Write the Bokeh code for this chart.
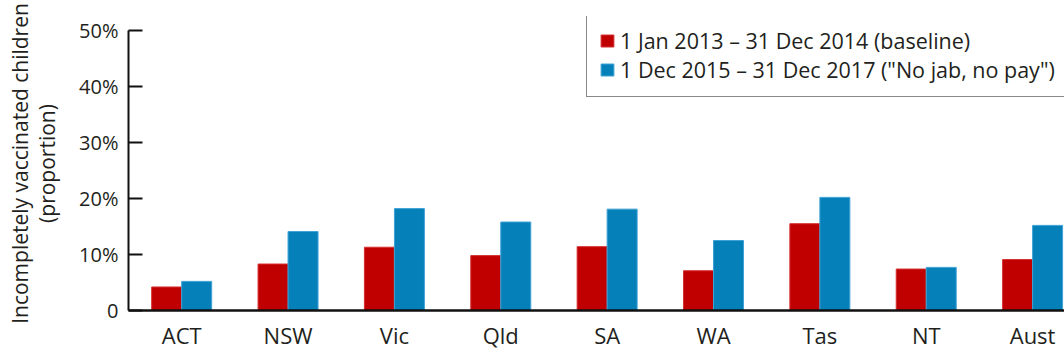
from bokeh.plotting import figure
from bokeh.models import Range1d, FixedTicker, ColumnDataSource, Legend, LegendItem
from bokeh.transform import dodge
from bokeh.embed import file_html
from bokeh.resources import INLINE

regions = ["ACT", "NSW", "Vic", "Qld", "SA", "WA", "Tas", "NT", "Aust"]
baseline = [4.2, 8.3, 11.3, 9.8, 11.4, 7.1, 15.5, 7.4, 9.1]
no_jab = [5.2, 14.1, 18.2, 15.8, 18.1, 12.5, 20.2, 7.7, 15.2]
series_labels = ["1 Jan 2013 \u2013 31 Dec 2014 (baseline)",
                 "1 Dec 2015 \u2013 31 Dec 2017 (\"No jab, no pay\")"]
y_ticks = [0, 10, 20, 30, 40, 50]
y_tick_labels = ["0", "10%", "20%", "30%", "40%", "50%"]

FONT = "Open Sans"
TXT = "#231f20"
RED = "#c00000"
BLUE = "#0680b8"

src = ColumnDataSource(dict(x=list(range(len(regions))), base=baseline, nojab=no_jab))

p = figure(width=1064, height=352, output_backend="svg", toolbar_location=None,
           x_range=Range1d(-0.5, 8.3), y_range=Range1d(0, 50 * 294 / 280),
           min_border_left=128, min_border_right=0, min_border_top=16, min_border_bottom=42)
p.outline_line_color = None
p.xgrid.visible = False
p.ygrid.visible = False

bw = 0.282
r1 = p.vbar(x=dodge("x", -bw / 2, range=p.x_range), top="base", width=bw, source=src,
            fill_color=RED, line_color="#d43030", line_width=1)
r2 = p.vbar(x=dodge("x", bw / 2, range=p.x_range), top="nojab", width=bw, source=src,
            fill_color=BLUE, line_color="#3fa2d6", line_width=1)

# x axis
p.xaxis.ticker = FixedTicker(ticks=list(range(len(regions))))
p.xaxis.major_label_overrides = {i: r for i, r in enumerate(regions)}
p.xaxis.major_tick_line_color = None
p.xaxis.minor_tick_line_color = None
p.xaxis.axis_line_color = "#111111"
p.xaxis.axis_line_width = 2.5
p.xaxis.major_label_text_font = FONT
p.xaxis.major_label_text_font_size = "22px"
p.xaxis.major_label_text_color = TXT
p.xaxis.major_label_standoff = 3

# y axis
p.yaxis.ticker = FixedTicker(ticks=y_ticks)
p.yaxis.bounds = (0, 50)
p.yaxis.major_label_overrides = {t: l for t, l in zip(y_ticks, y_tick_labels)}
p.yaxis.major_tick_in = 14
p.yaxis.major_tick_out = 0
p.yaxis.major_tick_line_width = 2
p.yaxis.major_tick_line_color = "#111111"
p.yaxis.minor_tick_line_color = None
p.yaxis.axis_line_color = "#111111"
p.yaxis.axis_line_width = 2
p.yaxis.major_label_text_font = FONT
p.yaxis.major_label_text_font_size = "20px"
p.yaxis.major_label_text_color = TXT
p.yaxis.major_label_standoff = 10
p.yaxis.axis_label = "Incompletely vaccinated children\n(proportion)"
p.yaxis.axis_label_text_font = FONT
p.yaxis.axis_label_text_font_size = "21px"
p.yaxis.axis_label_text_font_style = "normal"
p.yaxis.axis_label_text_color = TXT
p.yaxis.axis_label_text_line_height = 0.95
p.yaxis.axis_label_standoff = 15

legend = Legend(items=[LegendItem(label=series_labels[0], renderers=[r1]),
                       LegendItem(label=series_labels[1], renderers=[r2])],
                location=(458, 213))
legend.border_line_color = "#111111"
legend.border_line_width = 1.5
legend.background_fill_alpha = 1
legend.label_text_font = FONT
legend.label_text_font_size = "21.5px"
legend.label_text_color = TXT
legend.glyph_width = 16
legend.glyph_height = 15
legend.label_standoff = 5
legend.padding = 12
legend.spacing = -2
legend.margin = 0
p.add_layout(legend, "center")

open("out.html", "w").write(file_html(p, INLINE))
